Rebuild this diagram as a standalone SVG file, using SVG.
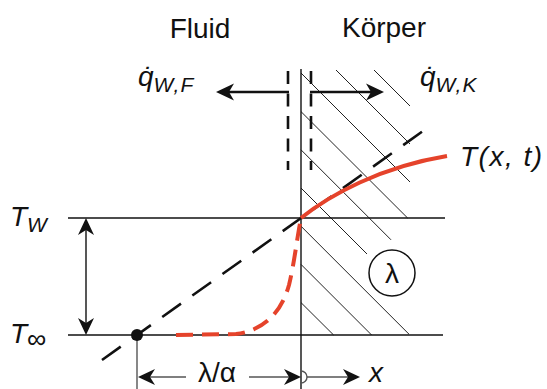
<svg xmlns="http://www.w3.org/2000/svg" width="547" height="389" viewBox="0 0 547 389">
<style>
.t{font-family:"Liberation Sans",Arial,sans-serif;font-size:28px;fill:#111}
.i{font-style:italic}
.hat{stroke:#222;stroke-width:1;fill:none}
.ln{stroke:#111;stroke-width:1.4;fill:none}
.dim{stroke:#555;stroke-width:1.4;fill:none}
.thick{stroke:#111;stroke-width:2.6;fill:none}
.vd{stroke:#111;stroke-width:2.6;fill:none;stroke-dasharray:13 9.5}
.red{stroke:#e5432b;stroke-width:4;fill:none}
</style>
<defs>
<marker id="big" markerUnits="userSpaceOnUse" viewBox="-19 -9 20 18" markerWidth="20" markerHeight="18" refX="-10" refY="0" orient="auto">
<path d="M0,0 L-18,-8.5 L-13,0 L-18,8.5 Z" fill="#111"/>
</marker>
<marker id="sm" markerUnits="userSpaceOnUse" viewBox="-18 -9 19 18" markerWidth="19" markerHeight="18" refX="-8" refY="0" orient="auto">
<path d="M0,0 L-17,-8 L-12,0 L-17,8 Z" fill="#111"/>
</marker>
</defs>

<g id="labels">
<text class="t" x="200" y="38" text-anchor="middle" font-size="29">Fluid</text>
<text class="t" x="384" y="37" text-anchor="middle" font-size="29">Körper</text>
</g>

<g id="hatching">
<line class="hat" x1="374" y1="70" x2="410" y2="106"/>
<line class="hat" x1="336" y1="70" x2="410" y2="144"/>
<line class="hat" x1="301" y1="73" x2="410" y2="182"/>
<line class="hat" x1="301" y1="111.6" x2="407.6" y2="218"/>
<line class="hat" x1="301" y1="149.8" x2="391" y2="239.8"/>
<line class="hat" x1="301" y1="188" x2="367" y2="254"/>
<line class="hat" x1="301" y1="226.2" x2="409" y2="334.2"/>
<line class="hat" x1="301" y1="264.4" x2="371.6" y2="335"/>
<line class="hat" x1="301" y1="302.6" x2="333.6" y2="335"/>
</g>

<g id="connectors">
<line class="ln" x1="301" y1="69" x2="301" y2="389"/>
<line class="ln" x1="68" y1="218" x2="445" y2="218"/>
<line class="ln" x1="68" y1="335" x2="443" y2="335"/>
<line class="vd" x1="288" y1="71" x2="288" y2="170"/>
<line class="vd" x1="311" y1="71" x2="311" y2="170"/>
<line class="thick" x1="289" y1="92" x2="226" y2="92" marker-end="url(#big)"/>
<line class="thick" x1="310" y1="92" x2="374" y2="92" marker-end="url(#big)"/>
<line class="thick" x1="102" y1="360" x2="433" y2="123.9" stroke-dasharray="23 14"/>
<line class="ln" x1="86" y1="276" x2="86" y2="226" marker-end="url(#sm)"/>
<line class="ln" x1="86" y1="276" x2="86" y2="327" marker-end="url(#sm)"/>
<line class="dim" x1="137" y1="335" x2="137" y2="389"/>
<line class="dim" x1="186" y1="377" x2="146" y2="377" marker-end="url(#sm)"/>
<line class="dim" x1="249" y1="377" x2="293" y2="377" marker-end="url(#sm)"/>
<path class="dim" d="M301,371 A6,6 0 0 1 301,383"/>
<line class="dim" x1="307" y1="377" x2="352" y2="377" marker-end="url(#sm)"/>
<path class="red" d="M301,218 C330,195 380,167 447,156"/>
<path class="red" stroke-dasharray="17 9" d="M176,335 L236,334 C262,331 281,314 289,285 C294,265 297,238 301,218"/>
<circle cx="137" cy="335" r="6" fill="#111"/>
</g>

<g id="lambda-node">
<circle cx="392" cy="273" r="23" fill="none" stroke="#111" stroke-width="1.5"/>
<text class="t" x="392" y="283" text-anchor="middle" font-size="30">λ</text>
</g>

<g id="math-labels">
<text class="t i" x="138" y="86" font-size="30">q̇<tspan font-size="21" dy="6" letter-spacing="1">W,F</tspan></text>
<text class="t i" x="420" y="86" font-size="30">q̇<tspan font-size="21" dy="6" letter-spacing="1">W,K</tspan></text>
<text class="t i" x="460" y="166" letter-spacing="1.5">T(x, t)</text>
<text class="t i" x="10" y="226" font-size="29">T<tspan font-size="21" dy="6">W</tspan></text>
<text class="t i" x="10" y="343" font-size="29">T<tspan font-size="27" font-style="normal" dy="5">∞</tspan></text>
<text class="t" x="217" y="382" text-anchor="middle" font-size="28">λ/α</text>
<text class="t i" x="369" y="382" font-size="28">x</text>
</g>
</svg>
